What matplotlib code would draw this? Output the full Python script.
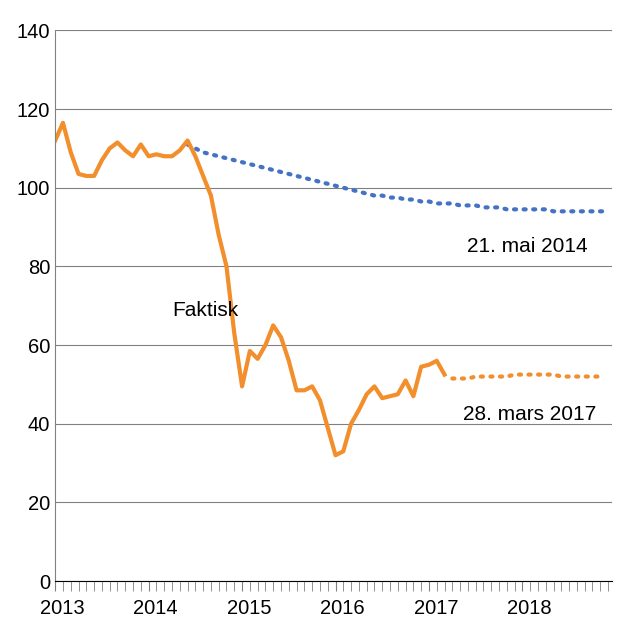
import matplotlib.pyplot as plt
import numpy as np

plt.rcParams["font.family"] = "Liberation Sans"

# Months counted from Jan 2013
faktisk = [112, 116.5, 109, 103.5, 103, 103, 107, 110, 111.5, 109.5,
           108, 111, 108, 108.5, 108, 108, 109.5, 112, 108, 103,
           98, 88, 80, 63, 49.5, 58.5, 56.5, 60, 65, 62,
           56, 48.5, 48.5, 49.5, 46, 39, 32, 33, 40, 43.5,
           47.5, 49.5, 46.5, 47, 47.5, 51, 47, 54.5, 55, 56, 52.5]
faktisk_start = 0

prog_2014 = [111, 110, 109, 108.5, 108, 107.5, 107, 106.5, 106, 105.5,
             105, 104.5, 104, 103.5, 103, 102.5, 102, 101.5, 101, 100.5,
             100, 99.5, 99, 98.5, 98, 98, 97.5, 97.5, 97, 97,
             96.5, 96.5, 96, 96, 96, 95.5, 95.5, 95.5, 95, 95,
             95, 94.5, 94.5, 94.5, 94.5, 94.5, 94.5, 94, 94, 94,
             94, 94, 94, 94, 94]
prog_2014_start = 17

prog_2017 = [51.5, 51.5, 51.5, 52, 52, 52, 52, 52, 52.5, 52.5,
             52.5, 52.5, 52.5, 52.5, 52, 52, 52, 52, 52, 52]
prog_2017_start = 51

years = ["2013", "2014", "2015", "2016", "2017", "2018"]

blue = "#4472c4"
orange = "#f28e2b"

fig = plt.figure(figsize=(6.2, 6.33), dpi=100)
ax = fig.add_axes([0.089, 0.082, 0.898, 0.87])

def xs(start, vals):
    return np.arange(start, start + len(vals))

ax.plot(xs(prog_2014_start, prog_2014), prog_2014, color=blue, lw=3,
        linestyle=(0, (0.5, 1.8)), dash_capstyle="round")
ax.plot(xs(prog_2017_start, prog_2017), prog_2017, color=orange, lw=3,
        linestyle=(0, (0.5, 1.8)), dash_capstyle="round")
ax.plot(xs(faktisk_start, faktisk), faktisk, color=orange, lw=3)

ax.set_ylim(0, 140)
ax.set_yticks(range(0, 141, 20))
ax.set_xlim(0, 71.5)
ax.yaxis.grid(True, color="#808080", lw=0.8)
ax.set_axisbelow(True)
for s in ["top", "right"]:
    ax.spines[s].set_visible(False)
ax.spines["left"].set_color("#808080")
ax.tick_params(axis="y", length=0, labelsize=14.5)
ax.set_xticks(np.arange(0, 72, 1), minor=True)
ax.set_xticks([0, 12, 24, 36, 48, 60])
ax.set_xticklabels([])
for i, y in enumerate(years):
    ax.text(i * 12 + 0.9, -4.5, y, fontsize=14.5, ha="center", va="top")
ax.tick_params(axis="x", which="both", direction="out", length=7, color="#808080")

ax.text(52.9, 83.6, "21. mai 2014", fontsize=15, va="baseline")
ax.text(15, 67.5, "Faktisk", fontsize=15, va="baseline")
ax.text(52.4, 41, "28. mars 2017", fontsize=15, va="baseline")

fig.savefig("out.png")
